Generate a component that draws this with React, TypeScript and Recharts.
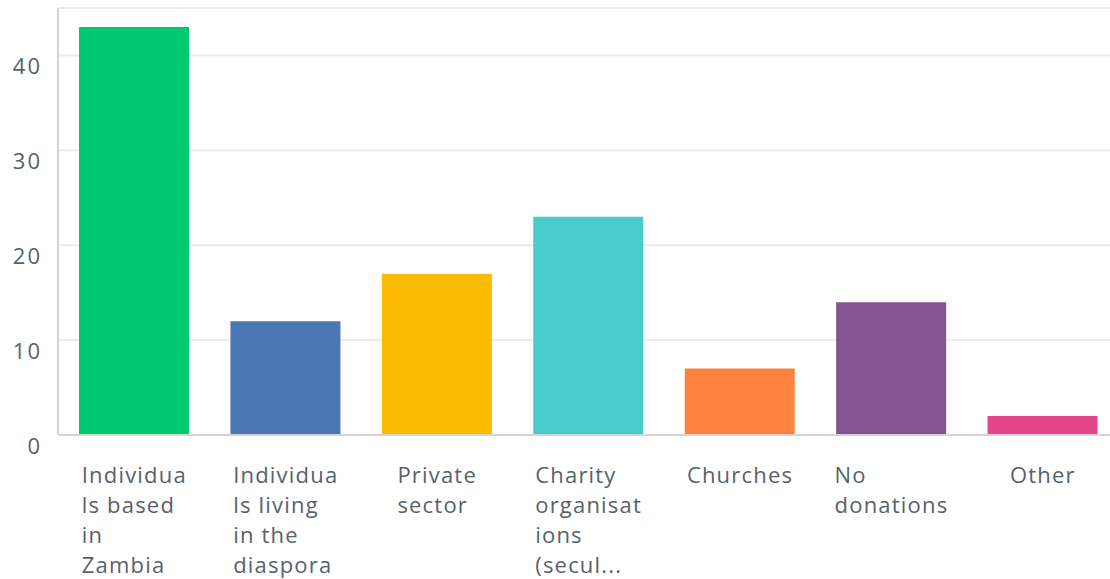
import { Bar, BarChart, CartesianGrid, Cell, XAxis, YAxis } from 'recharts'

const categories = [
  'Individuals based in Zambia',
  'Individuals living in the diaspora',
  'Private sector',
  'Charity organisations (secular)',
  'Churches',
  'No donations',
  'Other',
]

const tickLines: string[][] = [
  ['Individua', 'ls based', 'in', 'Zambia'],
  ['Individua', 'ls living', 'in the', 'diaspora'],
  ['Private', 'sector'],
  ['Charity', 'organisat', 'ions', '(secul...'],
  ['Churches'],
  ['No', 'donations'],
  ['Other'],
]

const responses = [43, 12, 17, 23, 7, 14, 2]

const barColors = ['#00c971', '#4a78b5', '#fdbb00', '#48cccc', '#ff8140', '#845392', '#e3458a']

const yTicks = [0, 10, 20, 30, 40]

const data = categories.map((name, i) => ({ name, value: responses[i] }))

const FONT = '"Open Sans", sans-serif'
const TEXT = '#58626b'
const SPACING = 1.2

let ctx: CanvasRenderingContext2D | null = null
function measure(text: string, size: number) {
  if (!ctx) ctx = document.createElement('canvas').getContext('2d')
  if (!ctx) return text.length * size * 0.55
  ctx.font = `${size}px ${FONT}`
  return ctx.measureText(text).width + SPACING * (text.length - 1)
}

function XTick(props: { x?: number; y?: number; payload?: { value?: string } }) {
  const x = props.x ?? 0
  const y = props.y ?? 0
  const idx = categories.indexOf(String(props.payload?.value ?? ''))
  const lines = tickLines[idx] ?? [String(props.payload?.value ?? '')]
  const w = Math.max(...lines.map((l) => measure(l, 22)))
  return (
    <text
      x={x - w / 2}
      y={y + 48}
      textAnchor="start"
      fill={TEXT}
      fontSize={22}
      fontFamily={FONT}
      letterSpacing={SPACING}
    >
      {lines.map((l, i) => (
        <tspan key={i} x={x - w / 2} dy={i === 0 ? 0 : 30}>
          {l}
        </tspan>
      ))}
    </text>
  )
}

function YTick(props: { x?: number; y?: number; payload?: { value?: number } }) {
  const y = props.y ?? 0
  return (
    <text
      x={42}
      y={y + 11}
      dy="0.36em"
      textAnchor="end"
      fill={TEXT}
      fontSize={22}
      fontFamily={FONT}
      letterSpacing={2}
    >
      {props.payload?.value}
    </text>
  )
}

export default function App() {
  return (
    <div
      style={{
        position: 'fixed',
        top: 0,
        left: 0,
        width: 1110,
        height: 579,
        overflow: 'hidden',
        background: '#fff',
      }}
    >
      <BarChart width={1118} height={579} data={data} margin={{ top: 8, right: 0, bottom: 0, left: 0 }}>
        <CartesianGrid stroke="#ececec" strokeWidth={2} vertical={false} />
        <XAxis
          dataKey="name"
          interval={0}
          height={144}
          tickLine={false}
          tickSize={0}
          tickMargin={0}
          axisLine={{ stroke: '#d4d4d4', strokeWidth: 2 }}
          tick={<XTick />}
        />
        <YAxis
          domain={[0, 45]}
          ticks={yTicks}
          width={58}
          tickLine={false}
          axisLine={{ stroke: '#d4d4d4', strokeWidth: 2 }}
          tick={<YTick />}
        />
        <Bar dataKey="value" barSize={110} isAnimationActive={false}>
          {data.map((_, i) => (
            <Cell key={i} fill={barColors[i]} />
          ))}
        </Bar>
      </BarChart>
    </div>
  )
}
